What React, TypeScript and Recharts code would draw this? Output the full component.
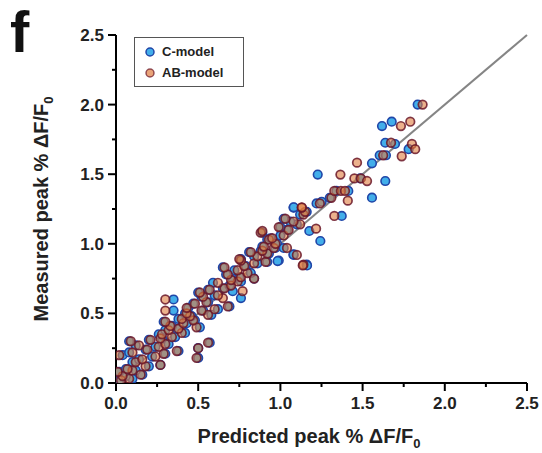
import React from "react";
import { ScatterChart, Scatter, XAxis, YAxis, ReferenceLine } from "recharts";

// Measured values (shared y) and predicted values for each model
const cPredicted: number[] = [
  0.02, 0.10, 0.06, 0.16, 0.02, 0.12, 0.06, 0.20, 0.27, 0.10, 0.14, 0.50, 0.22, 0.04, 0.30, 0.08, 0.38, 0.18, 0.50, 0.24,
  0.12, 0.32, 0.57, 0.08, 0.20, 0.28, 0.36, 0.26, 0.42, 0.30, 0.37, 0.51, 0.34, 0.43, 0.29, 0.48, 0.38, 0.46, 0.58, 0.42,
  0.35, 0.53, 0.62, 0.44, 0.69, 0.47, 0.56, 0.35, 0.76, 0.52, 0.60, 0.50, 0.71, 0.56, 0.65, 0.69, 0.59, 0.76, 0.71, 0.84,
  0.75, 0.67, 0.82, 0.72, 0.65, 0.79, 0.86, 0.92, 0.99, 0.76, 0.84, 0.93, 0.81, 0.88, 0.97, 0.89, 0.98, 0.92, 0.94, 1.00,
  0.89, 1.04, 1.00, 1.10, 1.06, 1.02, 1.12, 1.16, 1.08, 1.22, 1.30, 1.08, 1.16, 1.02,
  1.835, 1.677, 1.618, 1.638, 1.697, 1.78, 1.604, 1.642, 1.557, 1.227, 1.486, 1.638, 1.413, 1.251, 1.557, 1.081, 1.373,
  1.243, 1.08, 1.162, 0.983, 1.176, 1.34,
];
const cMeasured: number[] = [
  0.02, 0.03, 0.05, 0.06, 0.08, 0.09, 0.10, 0.12, 0.13, 0.15, 0.17, 0.18, 0.19, 0.20, 0.21, 0.22, 0.23, 0.24, 0.25, 0.26,
  0.27, 0.28, 0.29, 0.30, 0.31, 0.32, 0.33, 0.35, 0.36, 0.38, 0.39, 0.40, 0.41, 0.43, 0.44, 0.45, 0.46, 0.48, 0.49, 0.50,
  0.52, 0.52, 0.53, 0.54, 0.55, 0.57, 0.58, 0.60, 0.61, 0.62, 0.63, 0.65, 0.66, 0.67, 0.68, 0.70, 0.72, 0.73, 0.74, 0.75,
  0.76, 0.78, 0.79, 0.81, 0.83, 0.84, 0.86, 0.87, 0.88, 0.89, 0.91, 0.93, 0.94, 0.95, 0.97, 0.98, 1.00, 1.03, 1.04, 1.06,
  1.08, 1.10, 1.12, 1.14, 1.16, 1.18, 1.21, 1.23, 1.26, 1.29, 1.33, 0.92, 0.85, 0.97,
  2.00, 1.877, 1.846, 1.726, 1.717, 1.68, 1.636, 1.636, 1.578, 1.497, 1.47, 1.451, 1.38, 1.302, 1.331, 1.262, 1.20,
  1.02, 0.924, 0.845, 0.876, 1.092, 1.38,
];
const abPredicted: number[] = [
  0.03, 0.08, 0.04, 0.15, 0.01, 0.10, 0.07, 0.18, 0.27, 0.12, 0.16, 0.49, 0.24, 0.02, 0.29, 0.10, 0.37, 0.19, 0.50, 0.26,
  0.14, 0.30, 0.56, 0.09, 0.21, 0.27, 0.34, 0.28, 0.40, 0.32, 0.38, 0.49, 0.33, 0.41, 0.30, 0.47, 0.40, 0.45, 0.56, 0.43,
  0.30, 0.52, 0.60, 0.43, 0.68, 0.48, 0.55, 0.30, 0.65, 0.53, 0.62, 0.51, 0.77, 0.57, 0.66, 0.70, 0.62, 0.74, 0.70, 0.84,
  0.76, 0.68, 0.80, 0.74, 0.66, 0.78, 0.84, 0.91, 0.76, 0.75, 0.86, 0.92, 0.82, 0.89, 0.96, 0.90, 0.97, 0.93, 0.95, 1.02,
  0.88, 1.05, 0.99, 1.12, 1.08, 1.03, 1.14, 1.15, 1.13, 1.24, 1.31, 1.10, 1.14, 1.04,
  1.865, 1.79, 1.733, 1.673, 1.80, 1.82, 1.625, 1.738, 1.466, 1.365, 1.45, 1.49, 1.527, 1.328, 1.368, 1.393, 1.41, 1.13,
  1.328, 1.136, 1.217, 0.89,
];
const abMeasured: number[] = [
  0.02, 0.03, 0.05, 0.06, 0.08, 0.09, 0.10, 0.12, 0.13, 0.15, 0.17, 0.18, 0.19, 0.20, 0.21, 0.22, 0.23, 0.24, 0.25, 0.26,
  0.27, 0.28, 0.29, 0.30, 0.31, 0.32, 0.33, 0.35, 0.36, 0.38, 0.39, 0.40, 0.41, 0.43, 0.44, 0.45, 0.46, 0.48, 0.49, 0.50,
  0.52, 0.52, 0.53, 0.54, 0.55, 0.57, 0.58, 0.60, 0.61, 0.62, 0.63, 0.65, 0.66, 0.67, 0.68, 0.70, 0.72, 0.73, 0.74, 0.75,
  0.76, 0.78, 0.79, 0.81, 0.83, 0.84, 0.86, 0.87, 0.88, 0.89, 0.91, 0.93, 0.94, 0.95, 0.97, 0.98, 1.00, 1.03, 1.04, 1.06,
  1.08, 1.10, 1.12, 1.14, 1.16, 1.18, 1.21, 1.23, 1.26, 1.29, 1.33, 0.92, 0.85, 0.97,
  2.00, 1.877, 1.846, 1.726, 1.717, 1.68, 1.636, 1.629, 1.583, 1.497, 1.47, 1.47, 1.451, 1.38, 1.38, 1.38, 1.31, 1.262,
  1.20, 0.845, 1.109, 1.092,
];

const axisTicks: number[] = [0, 0.25, 0.5, 0.75, 1, 1.25, 1.5, 1.75, 2, 2.25, 2.5];
const seriesNames: string[] = ["C-model", "AB-model"];
const xTitle = "Predicted peak % \u0394F/F";
const yTitle = "Measured peak % \u0394F/F";
const panelLetter = "f";

const cData = cPredicted.map((x, i) => ({ x, y: cMeasured[i] }));
const abData = abPredicted.map((x, i) => ({ x, y: abMeasured[i] }));

const FONT = "'Liberation Sans', Arial, Helvetica, sans-serif";
const C_FILL = "#42aeea";
const C_STROKE = "#2046a8";
const AB_FILL = "#e07d40";
const AB_STROKE = "#6a1628";

const fmt = (v: number) => v.toFixed(1);
const isMajor = (v: number) => Math.abs(v * 2 - Math.round(v * 2)) < 1e-6;

const YTick = (props: any) => {
  const { x, y, payload } = props;
  const v = payload.value as number;
  const major = isMajor(v);
  return (
    <g>
      <line x1={x - (major ? 8 : 4)} y1={y} x2={x} y2={y} stroke="#000" strokeWidth={2} />
      {major && (
        <text x={x - 12} y={y + 6} textAnchor="end" fontFamily={FONT} fontWeight="bold" fontSize={17} fill="#222">
          {fmt(v)}
        </text>
      )}
    </g>
  );
};

const XTick = (props: any) => {
  const { x, y, payload } = props;
  const v = payload.value as number;
  const major = isMajor(v);
  return (
    <g>
      <line x1={x} y1={y} x2={x} y2={y + (major ? 8 : 4)} stroke="#000" strokeWidth={2} />
      {major && (
        <text x={x} y={y + 26} textAnchor="middle" fontFamily={FONT} fontWeight="bold" fontSize={17} fill="#222">
          {fmt(v)}
        </text>
      )}
    </g>
  );
};

const CShape = (props: any) => (
  <circle cx={props.cx} cy={props.cy} r={4.3} fill={C_FILL} stroke={C_STROKE} strokeWidth={1.6} />
);
const ABShape = (props: any) => (
  <circle
    cx={props.cx}
    cy={props.cy}
    r={4.3}
    fill={AB_FILL}
    fillOpacity={0.6}
    stroke={AB_STROKE}
    strokeOpacity={0.85}
    strokeWidth={1.7}
  />
);

const LegendBox = () => (
  <div
    style={{
      position: "absolute",
      left: 134,
      top: 37,
      border: "1.5px solid #555",
      background: "#fff",
      width: 110,
      height: 50,
      boxSizing: "border-box",
      fontFamily: FONT,
      fontWeight: "bold",
      fontSize: 13,
      color: "#222",
    }}
  >
    {seriesNames.map((name, i) => (
      <div key={name} style={{ display: "flex", alignItems: "center", height: 21, marginTop: i === 0 ? 3 : 0 }}>
        <svg width={26} height={14} style={{ display: "block" }}>
          <circle
            cx={15}
            cy={7}
            r={4}
            fill={i === 0 ? C_FILL : AB_FILL}
            fillOpacity={i === 0 ? 1 : 0.7}
            stroke={i === 0 ? C_STROKE : AB_STROKE}
            strokeOpacity={i === 0 ? 1 : 0.7}
            strokeWidth={1.5}
          />
        </svg>
        <span style={{ marginLeft: 1 }}>{name}</span>
      </div>
    ))}
  </div>
);

export default function App() {
  return (
    <div style={{ position: "fixed", left: 0, top: 0, width: 542, height: 453, background: "#fff" }}>
      <ScatterChart width={542} height={453} margin={{ top: 35, right: 15, left: 56, bottom: 30 }}>
        <XAxis
          type="number"
          dataKey="x"
          domain={[0, 2.5]}
          ticks={axisTicks}
          interval={0}
          height={40}
          tickSize={0}
          tickMargin={0}
          tickLine={false}
          axisLine={{ stroke: "#000", strokeWidth: 2 }}
          tick={<XTick />}
          allowDataOverflow
        />
        <YAxis
          type="number"
          dataKey="y"
          domain={[0, 2.5]}
          ticks={axisTicks}
          interval={0}
          width={60}
          tickSize={0}
          tickMargin={0}
          tickLine={false}
          axisLine={{ stroke: "#000", strokeWidth: 2 }}
          tick={<YTick />}
          allowDataOverflow
        />
        <ReferenceLine
          segment={[
            { x: 0, y: 0 },
            { x: 2.5, y: 2.5 },
          ]}
          stroke="#858585"
          strokeWidth={2}
        />
        <Scatter name={seriesNames[0]} data={cData} shape={<CShape />} isAnimationActive={false} />
        <Scatter name={seriesNames[1]} data={abData} shape={<ABShape />} isAnimationActive={false} />
      </ScatterChart>
      <LegendBox />
      <svg width={542} height={453} style={{ position: "absolute", left: 0, top: 0, pointerEvents: "none" }}>
        <text x={10} y={52} fontFamily={FONT} fontWeight="bold" fontSize={58} fill="#111">
          {panelLetter}
        </text>
        <text x={309} y={443} textAnchor="middle" fontFamily={FONT} fontWeight="bold" fontSize={20} fill="#222">
          {xTitle}
          <tspan fontSize={13} dy={5}>0</tspan>
        </text>
        <g transform="translate(48, 209) rotate(-90)">
          <text x={0} y={0} textAnchor="middle" fontFamily={FONT} fontWeight="bold" fontSize={20} fill="#222">
            {yTitle}
            <tspan fontSize={13} dy={5}>0</tspan>
          </text>
        </g>
      </svg>
    </div>
  );
}
